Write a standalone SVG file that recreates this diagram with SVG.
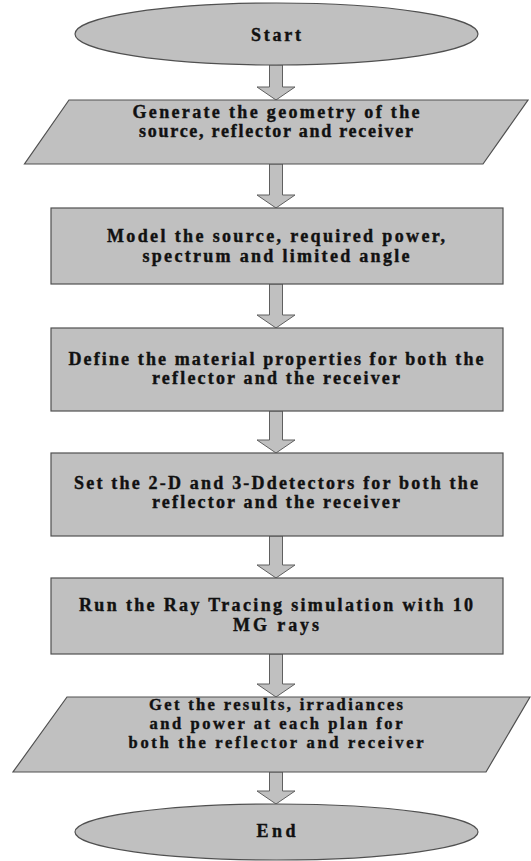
<svg xmlns="http://www.w3.org/2000/svg" width="531" height="861" viewBox="0 0 531 861">
<style>
.shape{fill:#c0c0c0;stroke:#505050;stroke-width:1.2}
.arrow{fill:#c0c0c0;stroke:#606060;stroke-width:1}
text{font-family:"Liberation Serif","Times New Roman",serif;font-weight:bold;font-size:18px;fill:#111;stroke:#111;stroke-width:0.4;text-anchor:middle}
.small{font-size:16.5px}
</style>
<rect width="531" height="861" fill="#fff"/>
<g id="connectors">
<polygon class="arrow" points="269.5,65 282.5,65 282.5,87 295,87 276,100 257,87 269.5,87"/>
<polygon class="arrow" points="269.5,164 282.5,164 282.5,195 295,195 276,208 257,195 269.5,195"/>
<polygon class="arrow" points="269.5,284 282.5,284 282.5,315 295,315 276,328 257,315 269.5,315"/>
<polygon class="arrow" points="269.5,411 282.5,411 282.5,440 295,440 276,453 257,440 269.5,440"/>
<polygon class="arrow" points="269.5,536 282.5,536 282.5,565 295,565 276,578 257,565 269.5,565"/>
<polygon class="arrow" points="269.5,654 282.5,654 282.5,684 295,684 276,697 257,684 269.5,684"/>
<polygon class="arrow" points="269.5,772 282.5,772 282.5,791 295,791 276,804 257,791 269.5,791"/>
</g>
<g id="start">
<ellipse class="shape" cx="276.5" cy="34" rx="201.5" ry="31"/>
<text x="276" y="41" textLength="50" lengthAdjust="spacing">Start</text>
</g>
<g id="geometry">
<polygon class="shape" points="69,100 528,100 483,164 24.5,164"/>
<text x="276" y="118" textLength="287" lengthAdjust="spacing">Generate the geometry of the</text>
<text x="276" y="137" textLength="274" lengthAdjust="spacing">source, reflector and receiver</text>
</g>
<g id="model">
<rect class="shape" x="51" y="208" width="452" height="76"/>
<text x="276" y="242" textLength="338" lengthAdjust="spacing">Model the source, required power,</text>
<text x="276" y="262" textLength="267" lengthAdjust="spacing">spectrum and limited angle</text>
</g>
<g id="material">
<rect class="shape" x="51" y="328" width="452" height="83"/>
<text x="276" y="365" textLength="415" lengthAdjust="spacing">Define the material properties for both the</text>
<text x="276" y="384" textLength="248" lengthAdjust="spacing">reflector and the receiver</text>
</g>
<g id="detectors">
<rect class="shape" x="51" y="453" width="452" height="83"/>
<text x="276" y="489" textLength="404" lengthAdjust="spacing">Set the 2-D and 3-Ddetectors for both the</text>
<text x="276" y="508" textLength="248" lengthAdjust="spacing">reflector and the receiver</text>
</g>
<g id="raytracing">
<rect class="shape" x="51" y="578" width="452" height="76"/>
<text x="276" y="611" textLength="394" lengthAdjust="spacing">Run the Ray Tracing simulation with 10</text>
<text x="276" y="631" textLength="86" lengthAdjust="spacing">MG rays</text>
</g>
<g id="results">
<polygon class="shape" points="67,697 530,697 486,772 13,772"/>
<text class="small" x="276" y="710" textLength="254" lengthAdjust="spacing">Get the results, irradiances</text>
<text class="small" x="276" y="729" textLength="253" lengthAdjust="spacing">and power at each plan for</text>
<text class="small" x="276" y="748" textLength="295" lengthAdjust="spacing">both the reflector and receiver</text>
</g>
<g id="end">
<ellipse class="shape" cx="276.5" cy="832" rx="201.5" ry="28"/>
<text x="276" y="837" textLength="39" lengthAdjust="spacing">End</text>
</g>
</svg>
